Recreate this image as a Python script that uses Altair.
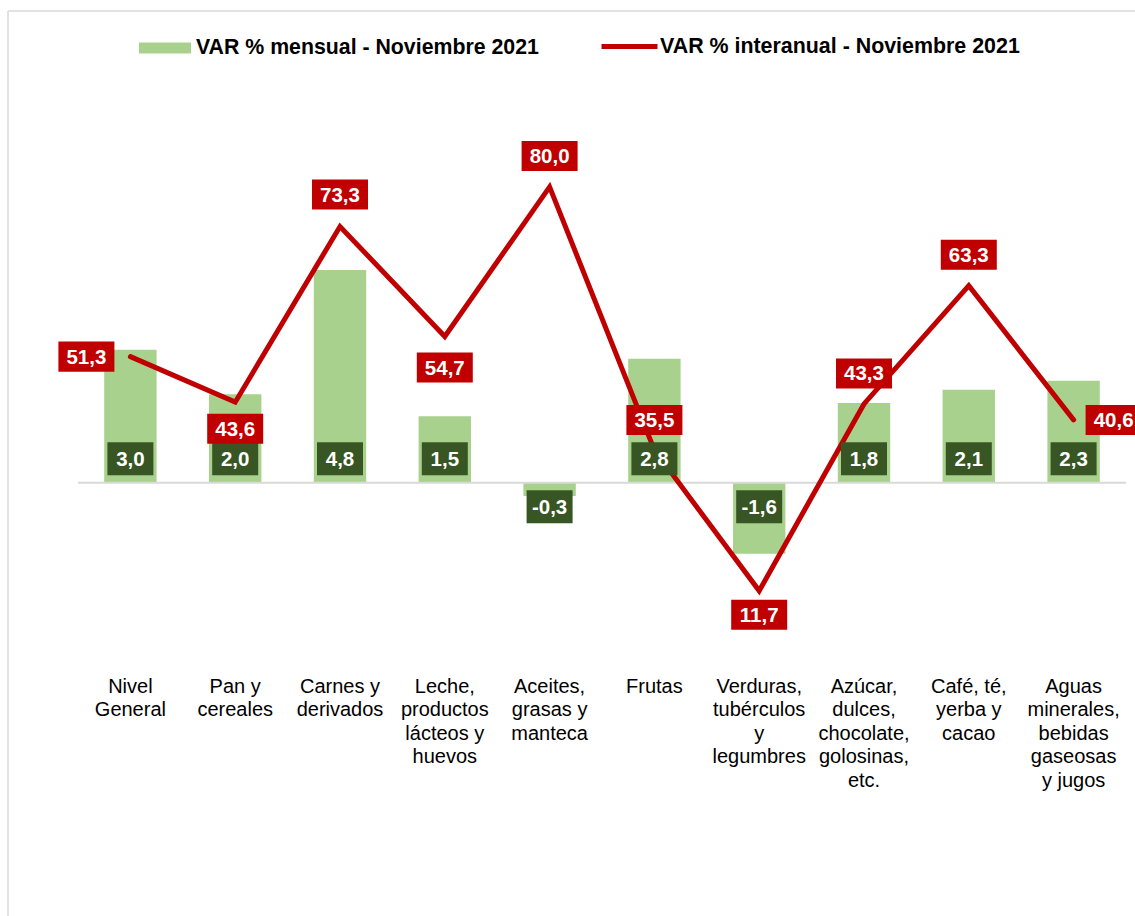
import altair as alt
import pandas as pd

# ---------------- data ----------------
categorias = [
    "Nivel\nGeneral",
    "Pan y\ncereales",
    "Carnes y\nderivados",
    "Leche,\nproductos\nlácteos y\nhuevos",
    "Aceites,\ngrasas y\nmanteca",
    "Frutas",
    "Verduras,\ntubérculos\ny\nlegumbres",
    "Azúcar,\ndulces,\nchocolate,\ngolosinas,\netc.",
    "Café, té,\nyerba y\ncacao",
    "Aguas\nminerales,\nbebidas\ngaseosas\ny jugos",
]
var_mensual = [3.0, 2.0, 4.8, 1.5, -0.3, 2.8, -1.6, 1.8, 2.1, 2.3]
var_interanual = [51.3, 43.6, 73.3, 54.7, 80.0, 35.5, 11.7, 43.3, 63.3, 40.6]
serie_mensual = "VAR % mensual - Noviembre 2021"
serie_interanual = "VAR % interanual - Noviembre 2021"

# label placement (pixel offsets of the red labels around the line points)
label_offsets = [(-44, 0), (0, 26.5), (0, -32), (0, 31), (0, -31),
                 (0, -30), (0, 24), (0, -30.5), (0, -31), (40, 0)]

df = pd.DataFrame({"cat": categorias, "mensual": var_mensual, "interanual": var_interanual})

FONT = "Liberation Sans"
GREEN = "#a9d18e"
DARK = "#375623"
RED = "#c00000"
GRAY = "#d9d9d9"

RBOX = "M-1,-0.536L1,-0.536L1,0.536L-1,0.536Z"   # 56 x 30
GBOX = "M-1,-0.717L1,-0.717L1,0.717L-1,0.717Z"   # 46 x 33
LEG_BAR = "M-1,-0.21L1,-0.21L1,0.21L-1,0.21Z"

x_enc = alt.X(
    "cat:N", sort=categorias,
    scale=alt.Scale(paddingInner=0.5, paddingOuter=0.25),
    axis=alt.Axis(title=None, ticks=False, domain=False, grid=False, labelAngle=0,
                  labelFont=FONT, labelFontSize=20, labelColor="#000000",
                  labelBaseline="top", labelPadding=16, labelLineHeight=23.5,
                  labelExpr="split(datum.label, '\\n')", labelLimit=300),
)

yb_scale = alt.Scale(domain=[-4, 9], nice=False, zero=False)
yl_scale = alt.Scale(domain=[0, 97.4], nice=False, zero=False)

base = alt.Chart(df).transform_calculate(
    lab_m="(datum.mensual < 0 ? '-' : '') + replace(format(abs(datum.mensual), '.1f'), '.', ',')",
    lab_i="replace(format(datum.interanual, '.1f'), '.', ',')",
    s_m=f"'{serie_mensual}'",
    s_i=f"'{serie_interanual}'",
)

bars = base.mark_bar().encode(
    x=x_enc,
    y=alt.Y("mensual:Q", scale=yb_scale, axis=None),
    color=alt.Color(
        "s_m:N", scale=alt.Scale(domain=[serie_mensual], range=[GREEN]),
        legend=alt.Legend(title=None, orient="none", legendX=61, legendY=-62,
                          symbolType=LEG_BAR, symbolSize=2704, symbolStrokeWidth=0,
                          symbolOpacity=1, labelFont=FONT, labelFontSize=21.3,
                          labelFontWeight="bold", labelColor="#000000", labelOffset=5,
                          labelLimit=800, padding=0),
    ),
)

zero_rule = alt.Chart(pd.DataFrame({"z": [0]})).mark_rule(color=GRAY, strokeWidth=2).encode(
    y=alt.YDatum(0, scale=yb_scale, axis=None)
)

line = base.mark_line(strokeWidth=5, strokeCap="round", strokeJoin="miter").encode(
    x=x_enc,
    y=alt.Y("interanual:Q", scale=yl_scale, axis=None),
    stroke=alt.Stroke(
        "s_i:N", scale=alt.Scale(domain=[serie_interanual], range=[RED]),
        legend=alt.Legend(title=None, orient="none", legendX=521, legendY=-68,
                          symbolType="stroke", symbolSize=3136, symbolStrokeWidth=5,
                          labelFont=FONT, labelFontSize=21.4, labelFontWeight="bold",
                          labelColor="#000000", labelOffset=0, labelLimit=800, padding=0),
    ),
)

layers = [bars, zero_rule, line]

# dark green value boxes for the monthly bars
for cond, off in (("datum.mensual >= 0", -24), ("datum.mensual < 0", 24)):
    sub = base.transform_filter(cond)
    layers.append(sub.mark_point(shape=GBOX, size=2116, filled=True, fill=DARK, opacity=1,
                                 strokeWidth=0, yOffset=off).encode(
        x=x_enc, y=alt.YDatum(0, scale=yb_scale, axis=None)))
    layers.append(sub.mark_text(font=FONT, fontSize=20.5, fontWeight="bold", color="white",
                                baseline="middle", yOffset=off + 1).encode(
        x=x_enc, y=alt.YDatum(0, scale=yb_scale, axis=None), text="lab_m:N"))

# red value boxes for the year-on-year line
for c, (dx, dy) in zip(categorias, label_offsets):
    sub = base.transform_filter(alt.FieldEqualPredicate(field="cat", equal=c))
    layers.append(sub.mark_point(shape=RBOX, size=3136, filled=True, fill=RED, opacity=1,
                                 strokeWidth=0, xOffset=dx, yOffset=dy).encode(
        x=x_enc, y=alt.Y("interanual:Q", scale=yl_scale, axis=None)))
    layers.append(sub.mark_text(font=FONT, fontSize=20.5, fontWeight="bold", color="white",
                                baseline="middle", xOffset=dx, yOffset=dy + 1).encode(
        x=x_enc, y=alt.Y("interanual:Q", scale=yl_scale, axis=None), text="lab_i:N"))

# chart-area border (left and top)
one = pd.DataFrame({"a": [0]})
layers.append(alt.Chart(one).mark_rule(color=GRAY, strokeWidth=1.5).encode(
    x=alt.value(-70), y=alt.value(-73), y2=alt.value(840)))
layers.append(alt.Chart(one).mark_rule(color=GRAY, strokeWidth=1.5).encode(
    x=alt.value(-70), x2=alt.value(1100), y=alt.value(-73)))

chart = alt.layer(*layers).resolve_scale(y="independent").properties(
    width=1048, height=576,
    padding={"left": 78, "top": 84, "right": 9, "bottom": 256},
    autosize=alt.AutoSizeParams(type="none"),
    background="white",
).configure_view(stroke=None)

chart.save("out.html", embed_options={"renderer": "svg", "actions": False})
